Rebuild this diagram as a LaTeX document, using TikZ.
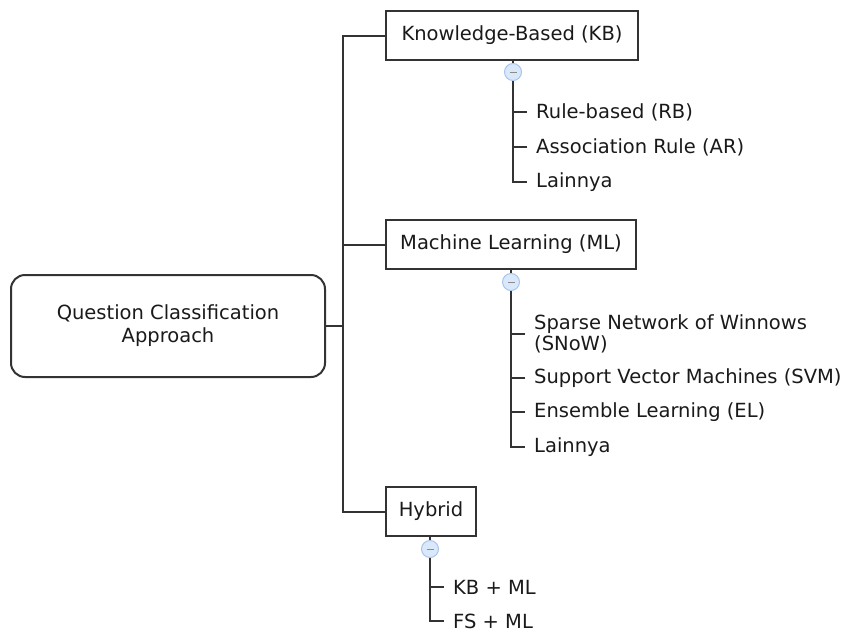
\documentclass[tikz,border=0pt]{standalone}
\usepackage{fontspec}
\setmainfont{DejaVu Sans}
\definecolor{tgfill}{HTML}{DAE8FC}
\definecolor{tgdraw}{HTML}{A9C4EB}
\definecolor{lncol}{HTML}{333333}
\definecolor{txcol}{HTML}{1A1A1A}
\begin{document}
\begin{tikzpicture}[x=1pt,y=-1pt,
  every node/.style={font=\fontsize{19.5}{22}\selectfont, text=txcol},
  conn/.style={draw=lncol, line width=2pt},
  box/.style={draw=lncol, line width=2pt, fill=white, minimum height=49pt, inner sep=0pt},
  rootbox/.style={draw=lncol, line width=2pt, rounded corners=14pt, minimum width=314pt, minimum height=102pt, align=center, inner sep=0pt},
  toggle/.style={circle, draw=tgdraw, fill=tgfill, line width=1pt, minimum size=17pt, inner sep=0pt},
  minus/.style={draw=black!45, line width=0.8pt},
  leaf/.style={anchor=west, inner xsep=9pt, inner ysep=0pt, align=left}]
\useasboundingbox (0,0) rectangle (843,632);

\node[rootbox] (root) at (168,326) {Question Classification\\[1pt]Approach};
\coordinate (tk) at (343,326);

\node[box, minimum width=252pt] (kb) at (512,35.5) {Knowledge-Based (KB)};
\node[box, minimum width=250pt] (ml) at (511,244.5) {Machine Learning (ML)};
\node[box, minimum width=90pt] (hy) at (431,511.5) {Hybrid};

\draw[conn] (root.east) -- (tk);
\draw[conn] (tk) |- (kb.west);
\draw[conn] (tk) |- (ml.west);
\draw[conn] (tk) |- (hy.west);

% KB children
\node[toggle] (tkb) at (513,72) {};
\node[leaf] (rb) at (527,112) {Rule-based (RB)};
\node[leaf] (ar) at (527,147) {Association Rule (AR)};
\node[leaf] (kl) at (527,182) {Lainnya};
\draw[conn] (kb.south -| tkb) -- (tkb.north);
\draw[conn] (tkb.south) |- (rb.west);
\draw[conn] (tkb.south) |- (ar.west);
\draw[conn] (tkb.south) |- (kl.west);
\draw[minus] ([xshift=-3.5pt]tkb.center) -- ([xshift=3.5pt]tkb.center);

% ML children
\node[toggle] (tml) at (511,282) {};
\node[leaf] (sn) at (525,334) {Sparse Network of Winnows\\[-1pt](SNoW)};
\node[leaf] (sv) at (525,378) {Support Vector Machines (SVM)};
\node[leaf] (el) at (525,412) {Ensemble Learning (EL)};
\node[leaf] (ml4) at (525,447) {Lainnya};
\draw[conn] (ml.south -| tml) -- (tml.north);
\draw[conn] (tml.south) |- (sn.west);
\draw[conn] (tml.south) |- (sv.west);
\draw[conn] (tml.south) |- (el.west);
\draw[conn] (tml.south) |- (ml4.west);
\draw[minus] ([xshift=-3.5pt]tml.center) -- ([xshift=3.5pt]tml.center);

% Hybrid children
\node[toggle] (thy) at (430,549) {};
\node[leaf] (kbml) at (444,587) {KB + ML};
\node[leaf] (fsml) at (444,621) {FS + ML};
\draw[conn] (hy.south -| thy) -- (thy.north);
\draw[conn] (thy.south) |- (kbml.west);
\draw[conn] (thy.south) |- (fsml.west);
\draw[minus] ([xshift=-3.5pt]thy.center) -- ([xshift=3.5pt]thy.center);
\end{tikzpicture}
\end{document}
